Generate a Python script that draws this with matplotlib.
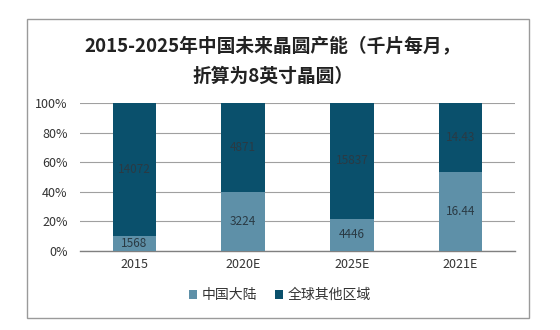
import matplotlib
matplotlib.use("Agg")
import matplotlib.pyplot as plt
from matplotlib.patches import Rectangle
import numpy as np

plt.rcParams['font.family'] = ['Noto Sans CJK SC', 'DejaVu Sans']

categories = ["2015", "2020E", "2025E", "2021E"]
china = [1568, 3224, 4446, 16.44]
others = [14072, 4871, 15837, 14.43]
china_labels = ["1568", "3224", "4446", "16.44"]
others_labels = ["14072", "4871", "15837", "14.43"]
series_names = ["中国大陆", "全球其他区域"]
yticks = [0, 20, 40, 60, 80, 100]

c_light = "#5e90a8"
c_dark = "#0a506c"

fig = plt.figure(figsize=(5.6, 3.3), dpi=100)
W, H = 560, 330
ax = fig.add_axes([80 / W, 1 - 251 / H, (515 - 80) / W, (251 - 103) / H])

china = np.array(china, dtype=float)
others = np.array(others, dtype=float)
tot = china + others
cp = china / tot * 100
op = others / tot * 100
x = np.arange(len(categories))
bw = 0.4
ax.bar(x, cp, bw, color=c_light, label=series_names[0], zorder=3)
ax.bar(x, op, bw, bottom=cp, color=c_dark, label=series_names[1], zorder=3)

for i in range(len(x)):
    ax.text(x[i], cp[i] / 2, china_labels[i], ha="center", va="center",
            fontsize=8.5, color="#2a3a44", zorder=4)
    ax.text(x[i], cp[i] + op[i] / 2, others_labels[i], ha="center", va="center",
            fontsize=8.5, color="#2a3a44", zorder=4)

ax.set_xlim(-0.5, len(categories) - 0.5)
ax.set_ylim(0, 100)
ax.set_yticks(yticks)
ax.set_yticklabels([f"{v}%" for v in yticks])
ax.set_xticks(x)
ax.set_xticklabels(categories)
ax.tick_params(axis="both", length=0, labelsize=9, colors="#333333")
ax.tick_params(axis="y", pad=9)
ax.tick_params(axis="x", pad=5)
ax.grid(axis="y", color="#a0a0a0", linewidth=0.8, zorder=0)
for s in ["top", "right", "left"]:
    ax.spines[s].set_visible(False)
ax.spines["bottom"].set_color("#808080")
ax.spines["bottom"].set_linewidth(1.0)

fig.text(273 / W, 1 - 46 / H, "2015-2025年中国未来晶圆产能（千片每月，",
         ha="center", va="center", fontsize=13.5, fontweight="bold", color="#222222")
fig.text(273 / W, 1 - 76 / H, "折算为8英寸晶圆）",
         ha="center", va="center", fontsize=13.5, fontweight="bold", color="#222222")

border = Rectangle((27 / W, 1 - 318 / H), (529 - 27) / W, (318 - 19) / H,
                   transform=fig.transFigure, fill=False, edgecolor="#9a9a9a",
                   linewidth=1.0)
fig.patches.append(border)

leg = fig.legend(loc="center", bbox_to_anchor=(280 / W, 1 - 295 / H), ncol=2,
                 frameon=False, fontsize=10, handlelength=0.6, handleheight=0.6,
                 handletextpad=0.3, columnspacing=1.3)
for t in leg.get_texts():
    t.set_color("#333333")

fig.savefig("out.png", dpi=100)
